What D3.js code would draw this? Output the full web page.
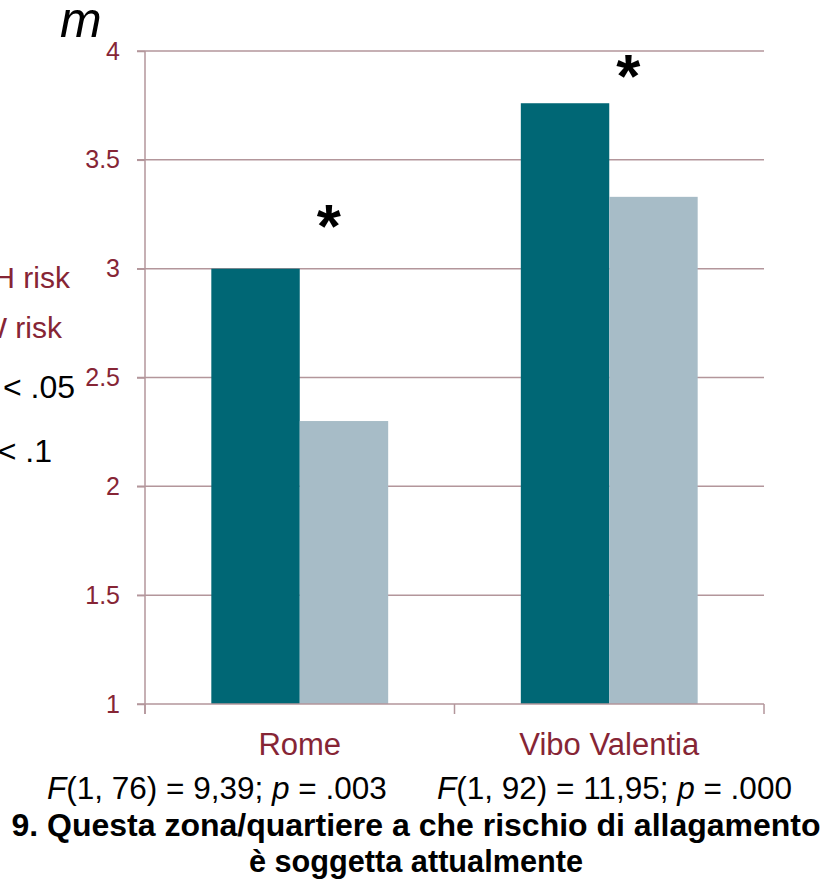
<!DOCTYPE html>
<html>
<head>
<meta charset="utf-8">
<script src="https://cdn.jsdelivr.net/npm/d3@7"></script>
<style>
  html, body { margin: 0; padding: 0; background: #ffffff; }
  svg { display: block; font-family: "Liberation Sans", Arial, sans-serif; }
</style>
</head>
<body>
<svg id="chart" width="829" height="882"></svg>
<script>
// ---- data ----
const categories = ["Rome", "Vibo Valentia"];
const seriesNames = ["HIGH risk", "LOW risk"];
const highRisk = [3.00, 3.76];
const lowRisk = [2.30, 3.33];
const yTickValues = [1, 1.5, 2, 2.5, 3, 3.5, 4];
const yTickLabels = ["1", "1.5", "2", "2.5", "3", "3.5", "4"];
const sigMarks = ["*", "*"];
const sigLevels = [3.27, 3.96];
const statF = ["(1, 76) = 9,39; ", "(1, 92) = 11,95; "];
const statP = [" = .003", " = .000"];
const legendLabels = ["HIGH risk", "LOW risk"];
const legendSig = ["* p < .05", "° p < .1"];
const yAxisLabel = "m";
const titleLines = ["9. Questa zona/quartiere a che rischio di allagamento", "è soggetta attualmente"];

// ---- styles ----
const colors = { "HIGH risk": "#006775", "LOW risk": "#A7BCC7" };
const axisColor = "#B3969B";
const labelColor = "#862535";

(function () {
const svg = d3.select("#chart");
const pLeft = 145, pRight = 764, pTop = 51, pBottom = 704;

const x0 = d3.scaleBand().domain(categories).range([pLeft, pRight]).padding(0);
const x1 = d3.scaleBand().domain(seriesNames).range([0, x0.bandwidth()])
  .paddingInner(0).paddingOuter(0.75);
const y = d3.scaleLinear().domain([1, 4]).range([pBottom, pTop]);

// grid lines
svg.append("g").selectAll("line").data(yTickValues.filter(v => v > 1)).join("line")
  .attr("x1", pLeft - 8).attr("x2", pRight)
  .attr("y1", d => y(d)).attr("y2", d => y(d))
  .attr("stroke", axisColor).attr("stroke-width", 1.5);

// bars
const rows = categories.map((c, i) => ({ cat: c, values: [highRisk[i], lowRisk[i]] }));
const groups = svg.append("g").selectAll("g").data(rows).join("g")
  .attr("transform", d => `translate(${x0(d.cat)},0)`);
groups.selectAll("rect").data(d => d.values.map((v, j) => ({ s: seriesNames[j], v })))
  .join("rect")
  .attr("x", d => x1(d.s)).attr("width", x1.bandwidth())
  .attr("y", d => y(d.v)).attr("height", d => y(1) - y(d.v))
  .attr("fill", d => colors[d.s]);

// y axis
const yAxis = d3.axisLeft(y).tickValues(yTickValues)
  .tickFormat((d, i) => yTickLabels[i]).tickSize(8).tickPadding(17);
const gy = svg.append("g").attr("transform", `translate(${pLeft},0)`).call(yAxis);
gy.select(".domain").remove();
gy.selectAll(".tick line").attr("stroke", axisColor).attr("stroke-width", 1.5);
gy.selectAll(".tick text").attr("fill", labelColor)
  .style("font-family", "'Liberation Sans', Arial, sans-serif").style("font-size", "25px");
svg.append("line").attr("x1", pLeft).attr("x2", pLeft).attr("y1", pTop).attr("y2", pBottom + 10)
  .attr("stroke", axisColor).attr("stroke-width", 1.5);

// x axis baseline and ticks
svg.append("line").attr("x1", pLeft - 8).attr("x2", pRight).attr("y1", pBottom).attr("y2", pBottom)
  .attr("stroke", axisColor).attr("stroke-width", 1.5);
const xTickPos = categories.map(c => x0(c)).concat([x0(categories[categories.length - 1]) + x0.bandwidth()]);
svg.append("g").selectAll("line").data(xTickPos).join("line")
  .attr("x1", d => d).attr("x2", d => d).attr("y1", pBottom).attr("y2", pBottom + 10)
  .attr("stroke", axisColor).attr("stroke-width", 1.5);

// category labels
svg.append("g").selectAll("text").data(categories).join("text")
  .attr("x", d => x0(d) + x0.bandwidth() / 2).attr("y", 755)
  .attr("text-anchor", "middle").attr("fill", labelColor)
  .style("font-size", "31px").text(d => d);

// significance asterisks
const sigShift = [29, 19];
svg.append("g").selectAll("text").data(categories).join("text")
  .attr("x", (d, i) => x0(d) + x1("LOW risk") + sigShift[i]).attr("y", (d, i) => y(sigLevels[i]) + 37)
  .attr("text-anchor", "middle").attr("fill", "#000")
  .style("font-size", "62px").style("font-weight", "bold").text((d, i) => sigMarks[i]);

// y axis label
svg.append("text").attr("x", 60).attr("y", 37).attr("fill", "#000")
  .style("font-size", "50px").style("font-style", "italic").text(yAxisLabel);

// legend (partly cut at left edge, as in the source)
const legY = [288, 338];
const legX = [70, 62];
svg.append("g").selectAll("text").data(legendLabels).join("text")
  .attr("x", (d, i) => legX[i]).attr("y", (d, i) => legY[i])
  .attr("text-anchor", "end").attr("fill", labelColor)
  .style("font-size", "30px").text(d => d);
const sigY = [398, 462];
const sigX = [75, 52];
svg.append("g").selectAll("text").data(legendSig).join("text")
  .attr("x", (d, i) => sigX[i]).attr("y", (d, i) => sigY[i])
  .attr("text-anchor", "end").attr("fill", "#000")
  .style("font-size", "32px").text(d => d);

// statistics line
const statX = [47, 437];
const st = svg.append("g").selectAll("text").data(categories).join("text")
  .attr("x", (d, i) => statX[i]).attr("y", 799).attr("fill", "#000")
  .style("font-size", "31.5px");
st.append("tspan").style("font-style", "italic").text("F");
st.append("tspan").text((d, i) => statF[i]);
st.append("tspan").style("font-style", "italic").text("p");
st.append("tspan").text((d, i) => statP[i]);

// title
const titleSize = [32, 30.7];
svg.append("g").selectAll("text").data(titleLines).join("text")
  .attr("x", 416).attr("y", (d, i) => 836 + i * 36)
  .attr("text-anchor", "middle").attr("fill", "#000")
  .style("font-size", (d, i) => titleSize[i] + "px").style("font-weight", "bold").text(d => d);
})();
</script>
</body>
</html>
